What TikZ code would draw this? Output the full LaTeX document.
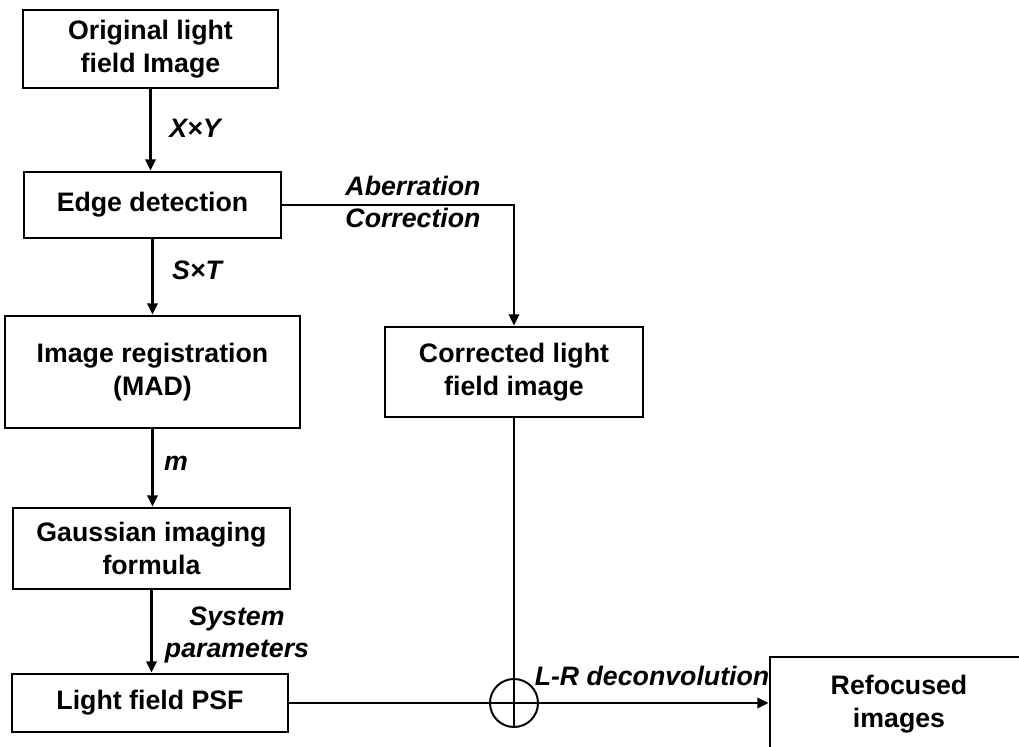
\documentclass[tikz,border=0pt]{standalone}
\usepackage{fontspec}
\setmainfont{Liberation Sans}
\usepackage{tikz}
\usetikzlibrary{positioning,arrows.meta}
\tikzset{
  blk/.style={draw, line width=2pt, fill=white, align=center,
              font=\bfseries\fontsize{19}{23}\selectfont, inner sep=2pt},
  op/.style={circle, draw, line width=1.4pt, inner sep=0pt, minimum size=1.2cm},
  ar/.style={-{Triangle[length=2.8mm,width=2.6mm]}, line width=1.5pt},
  ln/.style={line width=1.5pt},
  lbl/.style={font=\bfseries\itshape\fontsize{19}{23}\selectfont, align=center, inner sep=0pt},
}
\begin{document}
\begin{tikzpicture}[x=0.025cm, y=-0.025cm]
\useasboundingbox (0,0) rectangle (1019,747);

\node[blk, minimum width=6.375cm, minimum height=1.95cm] (orig) at (150.5,49) {Original light\\field Image};
\node[blk, minimum width=6.425cm, minimum height=1.65cm] (edge) at (152.5,205) {Edge detection};
\node[blk, minimum width=7.375cm, minimum height=2.8cm] (reg) at (152.5,372) {Image registration\\(MAD)};
\node[blk, minimum width=6.925cm, minimum height=2.025cm] (gauss) at (151.5,548.5) {Gaussian imaging\\formula};
\node[blk, minimum width=6.9cm, minimum height=1.45cm] (psf) at (150,703) {Light field PSF};
\node[blk, minimum width=6.45cm, minimum height=2.25cm] (corr) at (514,372) {Corrected light\\field image};
\node[blk, minimum width=6.45cm, minimum height=2.35cm] (refoc) at (899,704) {Refocused\\images};
\node[op] (sum) at (corr.south |- psf.east) {};

% main chain
\foreach \a/\b in {orig/edge, edge/reg, reg/gauss, gauss/psf}
  \draw[ar] (\a.south) -- (\a.south |- \b.north);

\draw[ar] (edge.east) -| (corr.north);
\draw[ln] (corr.south) -- (sum.south);
\draw[ar] (psf.east) -- (psf.east -| refoc.west);

\node[lbl] (lxy) at (195,128) {X×Y};
\node[lbl] (lst) at (197,270) {S×T};
\node[lbl] (lm) at (176,463) {m};
\node[lbl] (lsys) at (237,635) {System\\parameters};
\node[lbl] (lab) at (413,202) {Aberration\\Correction};
\node[lbl] (llr) at (652,676) {L-R deconvolution};
\end{tikzpicture}
\end{document}
